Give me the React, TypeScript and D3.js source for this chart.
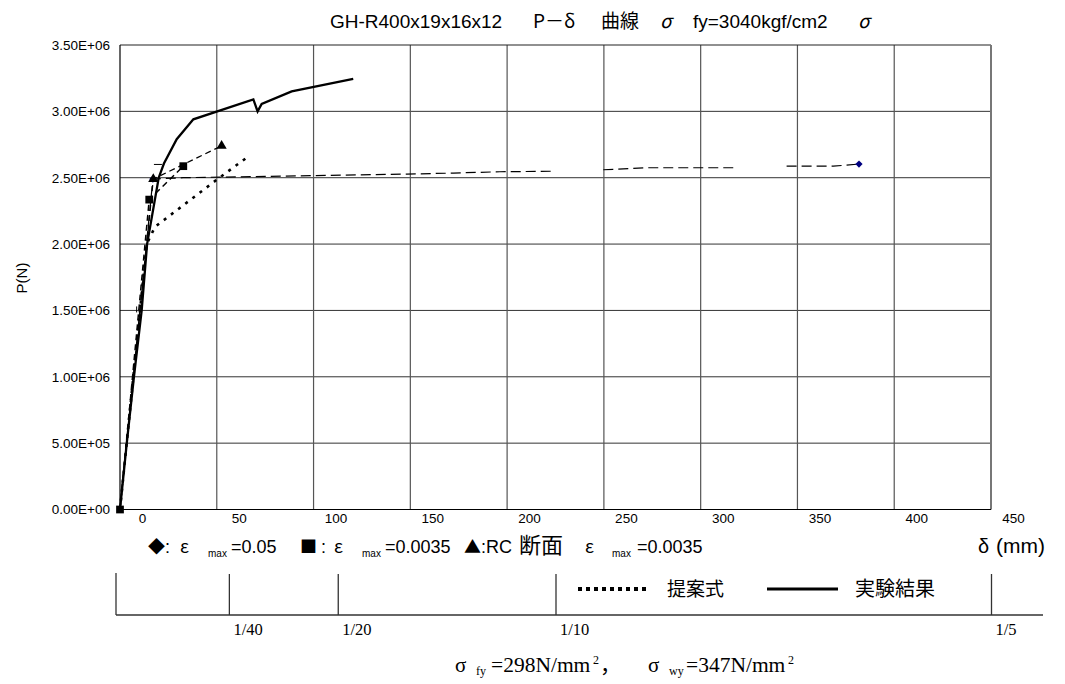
import React, { useEffect, useRef } from 'react';
import * as d3 from 'd3';

const W = 1065;
const H = 684;

// axis values
const xTickValues = [0, 50, 100, 150, 200, 250, 300, 350, 400, 450];
const yTickValues = [0, 5e5, 1e6, 1.5e6, 2e6, 2.5e6, 3e6, 3.5e6];
const driftTicks = [1 / 40, 1 / 20, 1 / 10, 1 / 5];
const driftLabels = ['1/40', '1/20', '1/10', '1/5'];

// 実験結果 (solid)
const expDelta = [0, 3.5, 7.2, 11.2, 14.0, 20.0, 22.7, 29.3, 37.9, 68.9, 71.1, 73.2, 88.7, 120.5];
const expLoad = [0, 0.5e6, 1.0e6, 1.5e6, 2.0e6, 2.5e6, 2.607e6, 2.79e6, 2.94e6, 3.09e6, 3.0e6, 3.056e6, 3.15e6, 3.245e6];

// 提案式 (dotted)
const propDelta = [0, 13.8, 18.1, 50.0, 66.3];
const propLoad = [0, 2.0e6, 2.13e6, 2.485e6, 2.66e6];

// ■ : ε max = 0.0035
const sqDelta = [0, 15.1, 32.7];
const sqLoad = [0, 2.335e6, 2.587e6];

// ▲ : RC断面 ε max = 0.0035
const triDelta = [0, 17.2, 52.5];
const triLoad = [0, 2.49e6, 2.74e6];

// ◆ : ε max = 0.05 (NaN = break in line)
const diaDelta = [0, 17.0, 32.6, 75.8, 124.0, 148.1, 172.2, 196.3, 223.7, NaN, 249.7, 272.1, 319.3, NaN, 344.4, 368.5, 381.8];
const diaLoad = [0, 2.49e6, 2.5e6, 2.51e6, 2.522e6, 2.527e6, 2.535e6, 2.545e6, 2.549e6, NaN, 2.56e6, 2.575e6, 2.575e6, NaN, 2.587e6, 2.587e6, 2.603e6];
const diaMarkerIdx = [1, 16];

// small stray marks
const hMarkDelta = [19.6];
const hMarkLoad = [2.6e6];
const vMarkDelta = [8.6];
const vMarkLoad = [1.5e6];

// texts
const titleParts = ['GH-R400x19x16x12', 'P－δ', '曲線', 'σ', 'fy=3040kgf/cm2', 'σ'];
const legendSeries = ['提案式', '実験結果'];

const fmtE = (v: number) => {
  if (v === 0) return '0.00E+00';
  const e = Math.floor(Math.log10(v));
  const m = v / Math.pow(10, e);
  return m.toFixed(2) + 'E+' + String(e).padStart(2, '0');
};

const SANS = "'Liberation Sans', Arial, 'Noto Sans CJK JP', sans-serif";
const CJK = "'Noto Sans CJK JP', 'Liberation Sans', sans-serif";
const SERIF = "'Liberation Serif', 'DejaVu Serif', 'Noto Sans CJK JP', serif";

export default function App() {
  const ref = useRef<SVGSVGElement>(null);

  useEffect(() => {
    const svg = d3.select(ref.current);
    svg.selectAll('*').remove();

    const L = 120, R = 991, T = 45, B = 509.5;
    const x = d3.scaleLinear().domain([0, 450]).range([L, R]);
    const y = d3.scaleLinear().domain([0, 3.5e6]).range([B, T]);
    const drift = d3.scaleLinear().domain([0, 0.2]).range([L, R]);

    svg.append('rect').attr('width', W).attr('height', H).attr('fill', '#fff');

    // title
    const title = svg.append('text').attr('y', 28).attr('font-size', 19).attr('fill', '#000');
    const titleX = [330, 533, 601, 660, 693, 858];
    const titleFont = [SANS, CJK, CJK, CJK, SANS, CJK];
    titleParts.forEach((t, i) => {
      title.append('tspan').attr('x', titleX[i]).attr('font-family', titleFont[i])
        .attr('font-style', t === 'σ' ? 'italic' : null).text(t);
    });

    // grid
    const g = svg.append('g');
    g.selectAll('line.hg').data(yTickValues.filter(v => v > 0 && v < 3.5e6)).enter().append('line')
      .attr('x1', L).attr('x2', R).attr('y1', d => y(d)).attr('y2', d => y(d))
      .attr('stroke', '#333').attr('stroke-width', 1);
    g.selectAll('line.vg').data(xTickValues.filter(v => v > 0 && v < 450)).enter().append('line')
      .attr('x1', d => x(d)).attr('x2', d => x(d)).attr('y1', T).attr('y2', B)
      .attr('stroke', '#555').attr('stroke-width', 1.2);
    g.append('line').attr('x1', L).attr('x2', R).attr('y1', T).attr('y2', T).attr('stroke', '#222').attr('stroke-width', 1.2);
    g.append('line').attr('x1', R).attr('x2', R).attr('y1', T).attr('y2', B).attr('stroke', '#777').attr('stroke-width', 2);
    g.append('line').attr('x1', L).attr('x2', L).attr('y1', T).attr('y2', B).attr('stroke', '#000').attr('stroke-width', 1.2);
    g.append('line').attr('x1', L).attr('x2', R).attr('y1', B).attr('y2', B).attr('stroke', '#000').attr('stroke-width', 1.2);

    // y axis
    const ya = svg.append('g').attr('transform', `translate(${L},0)`)
      .call(d3.axisLeft(y).tickValues(yTickValues).tickSize(0).tickPadding(10).tickFormat(d => fmtE(+d)));
    ya.select('.domain').remove();
    ya.selectAll('text').attr('font-family', SANS).attr('font-size', 13.5).attr('fill', '#000');

    // x axis
    const xa = svg.append('g').attr('transform', `translate(0,${B})`)
      .call(d3.axisBottom(x).tickValues(xTickValues).tickSize(0).tickPadding(4).tickFormat(d => String(d)));
    xa.select('.domain').remove();
    xa.selectAll('text').attr('font-family', SANS).attr('font-size', 13.5).attr('fill', '#000').attr('dx', 22);

    // P(N)
    svg.append('text').attr('transform', 'translate(27,278) rotate(-90)').attr('text-anchor', 'middle')
      .attr('font-family', SANS).attr('font-size', 15).text('P(N)');

    // series
    const zip = (a: number[], b: number[]) => a.map((v, i) => [v, b[i]] as [number, number]);
    const line = d3.line<[number, number]>().x(d => x(d[0])).y(d => y(d[1])).defined(d => !isNaN(d[0]) && !isNaN(d[1]));

    const s = svg.append('g');
    s.append('path').attr('d', line(zip(diaDelta, diaLoad))!).attr('fill', 'none').attr('stroke', '#000')
      .attr('stroke-width', 1.2).attr('stroke-dasharray', '10,5');
    s.append('path').attr('d', line(zip(propDelta, propLoad))!).attr('fill', 'none').attr('stroke', '#000')
      .attr('stroke-width', 2.6).attr('stroke-dasharray', '3,6');
    s.append('path').attr('d', line(zip(sqDelta, sqLoad))!).attr('fill', 'none').attr('stroke', '#000')
      .attr('stroke-width', 1.5).attr('stroke-dasharray', '6,4');
    s.append('path').attr('d', line(zip(triDelta, triLoad))!).attr('fill', 'none').attr('stroke', '#000')
      .attr('stroke-width', 1.3).attr('stroke-dasharray', '6,4');
    s.append('path').attr('d', line(zip(expDelta, expLoad))!).attr('fill', 'none').attr('stroke', '#000')
      .attr('stroke-width', 2.3).attr('stroke-linejoin', 'miter');

    // markers
    const dia = zip(diaDelta, diaLoad).filter((_, i) => diaMarkerIdx.includes(i));
    s.selectAll('path.dm').data(dia).enter().append('path')
      .attr('d', d3.symbol(d3.symbolSquare, 26)()!)
      .attr('transform', d => `translate(${x(d[0])},${y(d[1])}) rotate(45)`).attr('fill', '#000080');
    s.selectAll('path.sm').data(zip(sqDelta, sqLoad)).enter().append('path')
      .attr('d', d3.symbol(d3.symbolSquare, 60)()!)
      .attr('transform', d => `translate(${x(d[0])},${y(d[1])})`).attr('fill', '#000');
    s.selectAll('path.tm').data(zip(triDelta, triLoad).slice(1)).enter().append('path')
      .attr('d', d3.symbol(d3.symbolTriangle, 45)()!)
      .attr('transform', d => `translate(${x(d[0])},${y(d[1])})`).attr('fill', '#000');
    s.selectAll('line.hm').data(zip(hMarkDelta, hMarkLoad)).enter().append('line')
      .attr('x1', d => x(d[0]) - 4).attr('x2', d => x(d[0]) + 4).attr('y1', d => y(d[1])).attr('y2', d => y(d[1]))
      .attr('stroke', '#000').attr('stroke-width', 1);
    s.selectAll('line.vm').data(zip(vMarkDelta, vMarkLoad)).enter().append('line')
      .attr('x1', d => x(d[0])).attr('x2', d => x(d[0])).attr('y1', d => y(d[1]) - 4).attr('y2', d => y(d[1]) + 2)
      .attr('stroke', '#000').attr('stroke-width', 1);

    // symbol legend row
    const LY = 553;
    const row = svg.append('g').attr('fill', '#000');
    const piece = (xp: number, t: string, opts: { size?: number; dy?: number; font?: string } = {}) =>
      row.append('text').attr('x', xp).attr('y', LY + (opts.dy || 0))
        .attr('font-size', opts.size || 18).attr('font-family', opts.font || SANS).text(t);
    piece(148, '◆', { font: CJK, size: 17 });
    piece(165, ':');
    piece(180, 'ε', { font: CJK });
    piece(208, 'max', { size: 10, dy: 4 });
    piece(231, '=0.05');
    piece(300, '■', { font: CJK, size: 17 });
    piece(321, ':');
    piece(334, 'ε', { font: CJK });
    piece(362, 'max', { size: 10, dy: 4 });
    piece(385, '=0.0035');
    piece(464, '▲', { font: CJK, size: 17 });
    piece(481, ':RC');
    piece(519, '断面', { font: CJK, size: 22 });
    piece(585, 'ε', { font: CJK });
    piece(612, 'max', { size: 10, dy: 4 });
    piece(637, '=0.0035');
    piece(978, 'δ', { size: 20 });
    piece(996, '(mm)', { size: 21 });

    // drift axis
    const DY = 615;
    svg.append('line').attr('x1', 116).attr('x2', 1043).attr('y1', DY).attr('y2', DY).attr('stroke', '#333').attr('stroke-width', 1.3);
    svg.append('line').attr('x1', 116).attr('x2', 116).attr('y1', 573).attr('y2', DY).attr('stroke', '#333').attr('stroke-width', 1.3);
    const da = svg.append('g').attr('transform', `translate(0,${DY})`)
      .call(d3.axisBottom(drift).tickValues(driftTicks).tickSize(-41).tickPadding(8)
        .tickFormat((_, i) => driftLabels[i]));
    da.select('.domain').remove();
    da.selectAll('line').attr('stroke', '#333').attr('stroke-width', 1.3);
    da.selectAll('text').attr('font-family', SERIF).attr('font-size', 16.5).attr('fill', '#000')
      .attr('text-anchor', 'start').attr('dx', 4);

    // line-style legend
    const LG = 589;
    svg.append('line').attr('x1', 578).attr('x2', 646).attr('y1', LG).attr('y2', LG)
      .attr('stroke', '#000').attr('stroke-width', 4).attr('stroke-dasharray', '4,4');
    svg.append('text').attr('x', 667).attr('y', LG + 7).attr('font-family', CJK).attr('font-size', 19).text(legendSeries[0]);
    svg.append('line').attr('x1', 767).attr('x2', 838).attr('y1', LG).attr('y2', LG)
      .attr('stroke', '#000').attr('stroke-width', 3);
    svg.append('text').attr('x', 855).attr('y', LG + 7).attr('font-family', CJK).attr('font-size', 20).text(legendSeries[1]);

    // material strengths
    const SY = 672;
    const mat = svg.append('g').attr('font-family', SERIF).attr('fill', '#000');
    const mp = (xp: number, t: string, size: number, dy = 0) =>
      mat.append('text').attr('x', xp).attr('y', SY + dy).attr('font-size', size).text(t);
    mp(455, 'σ', 21);
    mp(476, 'fy', 12, 3);
    mp(491, '=298N/mm', 21.5);
    mp(593, '2', 12, -8);
    mp(600, '，', 21, 0);
    mp(648, 'σ', 21);
    mp(669, 'wy', 12, 3);
    mp(686, '=347N/mm', 21.5);
    mp(788, '2', 12, -8);
  }, []);

  return (
    <svg ref={ref} width={W} height={H} style={{ position: 'absolute', left: 0, top: 0, background: '#fff' }}>
    </svg>
  );
}
